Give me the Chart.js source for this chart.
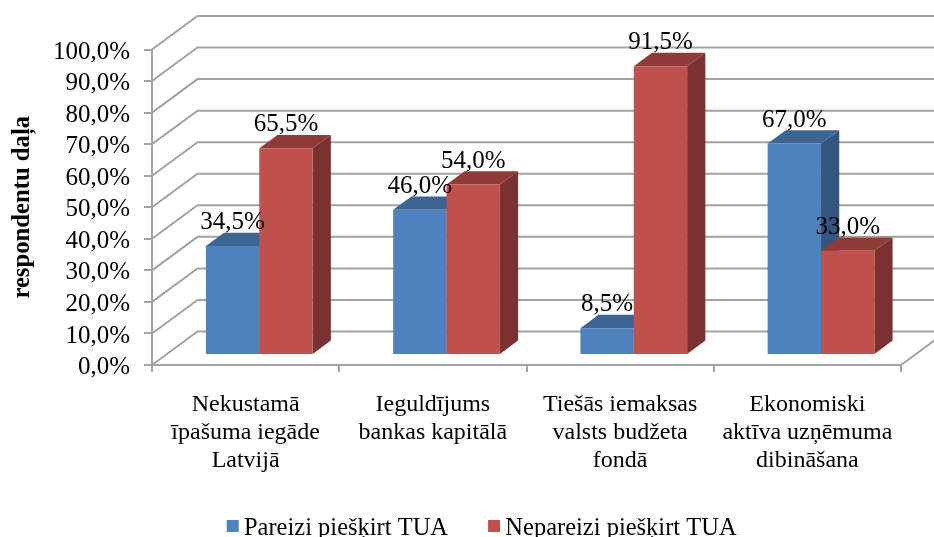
<!DOCTYPE html>
<html>
<head>
<meta charset="utf-8">
<style>html,body{margin:0;padding:0;background:#fff;overflow:hidden}canvas{display:block}</style>
<script src="https://cdn.jsdelivr.net/npm/chart.js@4/dist/chart.umd.min.js"></script>
</head>
<body>
<canvas id="c" width="934" height="537"></canvas>
<script>
const categories = [
  ["Nekustamā", "īpašuma iegāde", "Latvijā"],
  ["Ieguldījums", "bankas kapitālā"],
  ["Tiešās iemaksas", "valsts budžeta", "fondā"],
  ["Ekonomiski", "aktīva uzņēmuma", "dibināšana"]
];
const seriesNames = ["Pareizi piešķirt TUA", "Nepareizi piešķirt TUA"];
const correctValues = [34.5, 46.0, 8.5, 67.0];
const incorrectValues = [65.5, 54.0, 91.5, 33.0];
const axisTitle = "respondentu daļa";

const FONT = "'Liberation Serif'";
const GRID = "#a3a3a3";
const WALL_DX = 45.5, WALL_DY = 33.5;
const BAR_FRONT = 0.3, BAR_DEPTH = 0.4;
const FRONT = ["#4F81BD", "#C0504D"];
const TOP = ["#3D6593", "#8F3B39"];
const SIDE = ["#34557F", "#7A312F"];

const fmt = v => v.toFixed(1).replace(".", ",") + "%";

function poly(ctx, color, pts) {
  ctx.fillStyle = color;
  ctx.beginPath();
  pts.forEach((p, i) => i ? ctx.lineTo(p[0], p[1]) : ctx.moveTo(p[0], p[1]));
  ctx.closePath();
  ctx.fill();
}

const scene3d = {
  id: "scene3d",
  afterLayout(chart) {
    const lg = chart.legend;
    lg.left = 226.7 - lg.options.labels.padding;
    lg.right = lg.left + 800;
    lg.top = 528 - 12 - lg.options.labels.padding;
    lg.adjustHitBoxes();
  },
  beforeDatasetsDraw(chart) {
    const { ctx, chartArea: a, scales: { y } } = chart;
    ctx.save();
    ctx.strokeStyle = GRID;
    ctx.lineWidth = 2;
    ctx.beginPath();
    y.ticks.forEach(t => {
      const py = y.getPixelForValue(t.value);
      ctx.moveTo(a.left, py);
      ctx.lineTo(a.left + WALL_DX, py - WALL_DY);
      ctx.lineTo(a.right + WALL_DX, py - WALL_DY);
    });
    ctx.moveTo(a.right, a.bottom);
    ctx.lineTo(a.right + WALL_DX, a.bottom - WALL_DY);
    ctx.stroke();
    ctx.restore();

    // First series first, so the second series covers its side face.
    const sx = WALL_DX * BAR_FRONT, sy = -WALL_DY * BAR_FRONT;
    const dx = WALL_DX * BAR_DEPTH, dy = -WALL_DY * BAR_DEPTH;
    chart.data.datasets.forEach((ds, i) => {
      const meta = chart.getDatasetMeta(i);
      ctx.save();
      ctx.translate(sx, sy);
      meta.data.forEach(b => {
        const l = b.x - b.width / 2, r = b.x + b.width / 2, t = b.y, d = b.base;
        poly(ctx, SIDE[i], [[r, t], [r + dx, t + dy], [r + dx, d + dy], [r, d]]);
        poly(ctx, TOP[i], [[l, t], [l + dx, t + dy], [r + dx, t + dy], [r, t]]);
      });
      meta.controller.draw();
      ctx.restore();
    });
  },
  beforeDatasetDraw() {
    return false;
  },
  afterDatasetsDraw(chart) {
    const { ctx } = chart;
    const sx = WALL_DX * BAR_FRONT, sy = -WALL_DY * BAR_FRONT;
    ctx.save();
    ctx.font = "25px " + FONT;
    ctx.fillStyle = "#000";
    ctx.textAlign = "center";
    ctx.textBaseline = "alphabetic";
    chart.data.datasets.forEach((ds, i) => {
      chart.getDatasetMeta(i).data.forEach((b, j) => {
        ctx.fillText(fmt(ds.data[j]), b.x + sx, b.y + sy - 17);
      });
    });
    ctx.restore();
  },
  afterDraw(chart) {
    const { ctx } = chart;
    chart.legend.legendHitBoxes.forEach((h, i) => {
      ctx.fillStyle = FRONT[i];
      ctx.fillRect(h.left, 520, 12, 12);
    });
  }
};

new Chart(document.getElementById("c"), {
  type: "bar",
  data: {
    labels: categories,
    datasets: [
      { label: seriesNames[0], data: correctValues, backgroundColor: FRONT[0], clip: false },
      { label: seriesNames[1], data: incorrectValues, backgroundColor: FRONT[1], clip: false }
    ]
  },
  options: {
    responsive: false,
    animation: false,
    layout: { padding: { top: 49.5, right: 33, left: 0, bottom: 0 } },
    categoryPercentage: 0.57,
    barPercentage: 1,
    scales: {
      x: {
        afterFit(s) { s.height = 171; },
        grid: { drawOnChartArea: false, color: GRID, lineWidth: 2, tickLength: 7 },
        border: { color: GRID, width: 2 },
        ticks: {
          maxRotation: 0, minRotation: 0, autoSkip: false, padding: 18.5, color: "#000",
          font: { family: FONT, size: 24, lineHeight: 1.17 }
        }
      },
      y: {
        min: 0, max: 100,
        afterFit(s) { s.width = 152; },
        grid: { drawOnChartArea: false, color: GRID, lineWidth: 2, tickLength: 8 },
        border: { color: GRID, width: 2 },
        title: {
          display: true, text: axisTitle, color: "#000", padding: { top: 8, bottom: 0 },
          font: { family: FONT, size: 24.7, weight: "bold" }
        },
        ticks: {
          stepSize: 10, autoSkip: false, padding: 14, labelOffset: 2.5, color: "#000",
          font: { family: FONT, size: 25 },
          callback: v => fmt(v)
        }
      }
    },
    plugins: {
      tooltip: { enabled: false },
      legend: {
        position: "bottom",
        align: "start",
        maxHeight: 1,
        labels: {
          boxWidth: 5, boxHeight: 12, padding: 40, color: "#000",
          font: { family: FONT, size: 24.5 },
          generateLabels: chart => chart.data.datasets.map((d, i) => ({
            text: d.label, fillStyle: "rgba(0,0,0,0)", strokeStyle: "rgba(0,0,0,0)", lineWidth: 0, datasetIndex: i, fontColor: "#000"
          }))
        }
      }
    }
  },
  plugins: [scene3d]
});
</script>
</body>
</html>
